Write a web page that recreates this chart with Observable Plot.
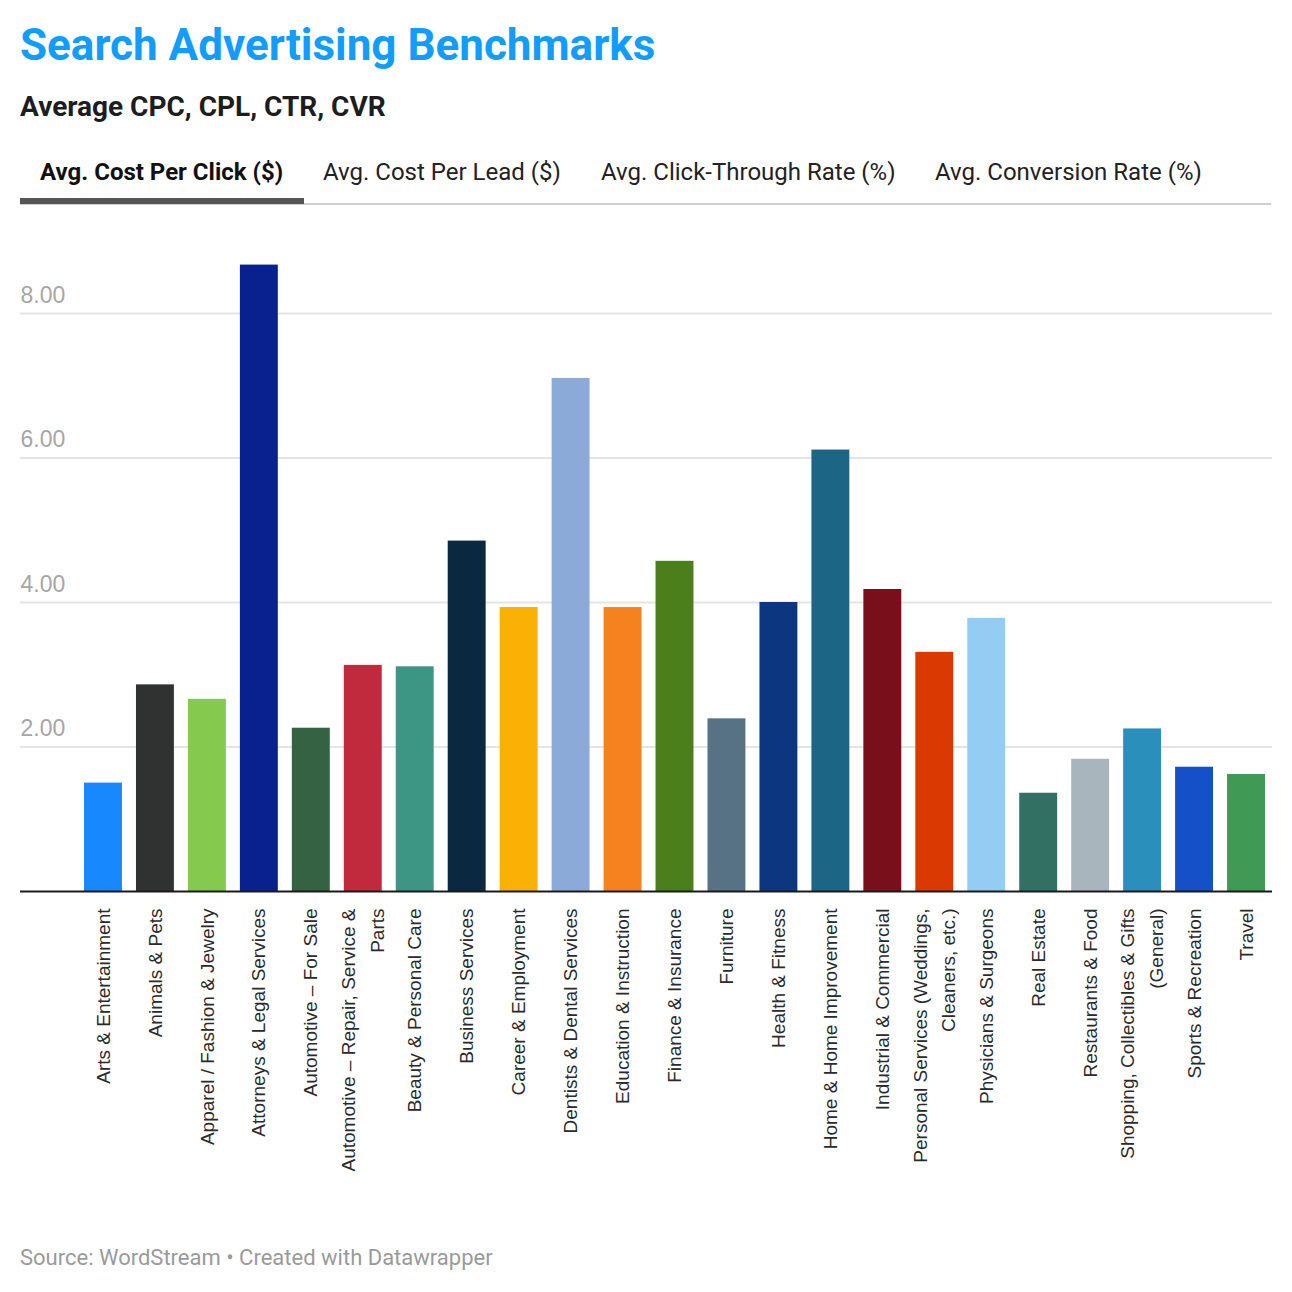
<!DOCTYPE html>
<html>
<head>
<meta charset="utf-8">
<script src="https://cdn.jsdelivr.net/npm/d3@7"></script>
<script src="https://cdn.jsdelivr.net/npm/@observablehq/plot@0.6"></script>
<style>
  html, body { margin: 0; padding: 0; background: #fff; }
  #page { position: relative; width: 1292px; height: 1292px; overflow: hidden; }
  .t { position: absolute; white-space: nowrap; line-height: 1; font-family: Roboto, sans-serif; }
  #title { left: 20px; top: 23px; font-size: 44px; font-weight: 700; color: #129cfb; }
  #subtitle { left: 20px; top: 93px; font-size: 28px; font-weight: 700; color: #1d1d1d; }
  .tab { top: 160px; font-size: 24px; color: #222; }
  #tab1 { left: 40px; font-weight: 700; color: #111; }
  #tab2 { left: 323px; }
  #tab3 { left: 601px; }
  #tab4 { left: 935px; }
  #tabline { position: absolute; left: 20px; top: 203px; width: 1251px; height: 2px; background: #d0d0d0; }
  #tabactive { position: absolute; left: 20px; top: 198px; width: 284px; height: 6px; background: #555; }
  #footer { left: 20px; top: 1247px; font-size: 22px; color: #9a9a9a; }
  #chart { position: absolute; left: 0; top: 230px; }
</style>
</head>
<body>
<div id="page">
  <div class="t" id="title">Search Advertising Benchmarks</div>
  <div class="t" id="subtitle">Average CPC, CPL, CTR, CVR</div>
  <div class="t tab" id="tab1">Avg. Cost Per Click ($)</div>
  <div class="t tab" id="tab2">Avg. Cost Per Lead ($)</div>
  <div class="t tab" id="tab3">Avg. Click-Through Rate (%)</div>
  <div class="t tab" id="tab4">Avg. Conversion Rate (%)</div>
  <div id="tabline"></div>
  <div id="tabactive"></div>
  <div id="chart"></div>
  <div class="t" id="footer">Source: WordStream • Created with Datawrapper</div>
</div>
<script>
const categories = [
  "Arts & Entertainment",
  "Animals & Pets",
  "Apparel / Fashion & Jewelry",
  "Attorneys & Legal Services",
  "Automotive – For Sale",
  "Automotive – Repair, Service &\nParts",
  "Beauty & Personal Care",
  "Business Services",
  "Career & Employment",
  "Dentists & Dental Services",
  "Education & Instruction",
  "Finance & Insurance",
  "Furniture",
  "Health & Fitness",
  "Home & Home Improvement",
  "Industrial & Commercial",
  "Personal Services (Weddings,\nCleaners, etc.)",
  "Physicians & Surgeons",
  "Real Estate",
  "Restaurants & Food",
  "Shopping, Collectibles & Gifts\n(General)",
  "Sports & Recreation",
  "Travel"
];
const cpcValues = [1.50, 2.86, 2.66, 8.67, 2.26, 3.13, 3.11, 4.85, 3.93, 7.10, 3.93, 4.57, 2.39, 4.00, 6.11, 4.18, 3.31, 3.78, 1.36, 1.83, 2.25, 1.72, 1.62];
const barColors = [
  "#1788fe", "#303231", "#86c94f", "#08218f", "#356243", "#c1293c", "#3d9583", "#0a2840",
  "#fbb006", "#8caad8", "#f5821f", "#4a7f1c", "#587285", "#0d3681", "#1c6585", "#7a0f1c",
  "#db3902", "#93cdf3", "#317062", "#a9b5bd", "#2a8fbb", "#1550c9", "#409955"
];
const yTicks = [2, 4, 6, 8];

const data = categories.map((c, i) => ({ category: c, value: cpcValues[i], color: barColors[i] }));

const chart = Plot.plot({
  width: 1292,
  height: 1000,
  marginLeft: 20,
  marginRight: 20,
  marginTop: 0,
  marginBottom: 0,
  x: { domain: categories, range: [77, 1272], paddingInner: 0.27, paddingOuter: 0.135, round: false, axis: null },
  y: { domain: [0, 8], range: [661, 83], axis: null },
  color: { type: "identity" },
  style: { background: "transparent", overflow: "visible" },
  marks: [
    Plot.ruleY(yTicks, { stroke: "#e4e4e4", strokeWidth: 2 }),
    Plot.text(yTicks, {
      y: d => d, text: d => d.toFixed(2), frameAnchor: "left", textAnchor: "start",
      lineAnchor: "bottom", dy: -11, fill: "#a6a6a6", fontSize: 23, fontFamily: "Liberation Sans, Arial, sans-serif"
    }),
    Plot.barY(data, { x: "category", y: "value", fill: "color" }),
    Plot.ruleY([0], { stroke: "#1a1a1a", strokeWidth: 2 }),
    Plot.text(data, {
      x: "category", y: 0, text: "category", rotate: -90, textAnchor: "end", lineAnchor: "middle",
      lineHeight: 1.5, dx: -3, dy: 17, fill: "#2a2a2a", fontSize: 19, fontFamily: "Liberation Sans, Arial, sans-serif"
    })
  ]
});
document.getElementById("chart").appendChild(chart);
</script>
</body>
</html>
